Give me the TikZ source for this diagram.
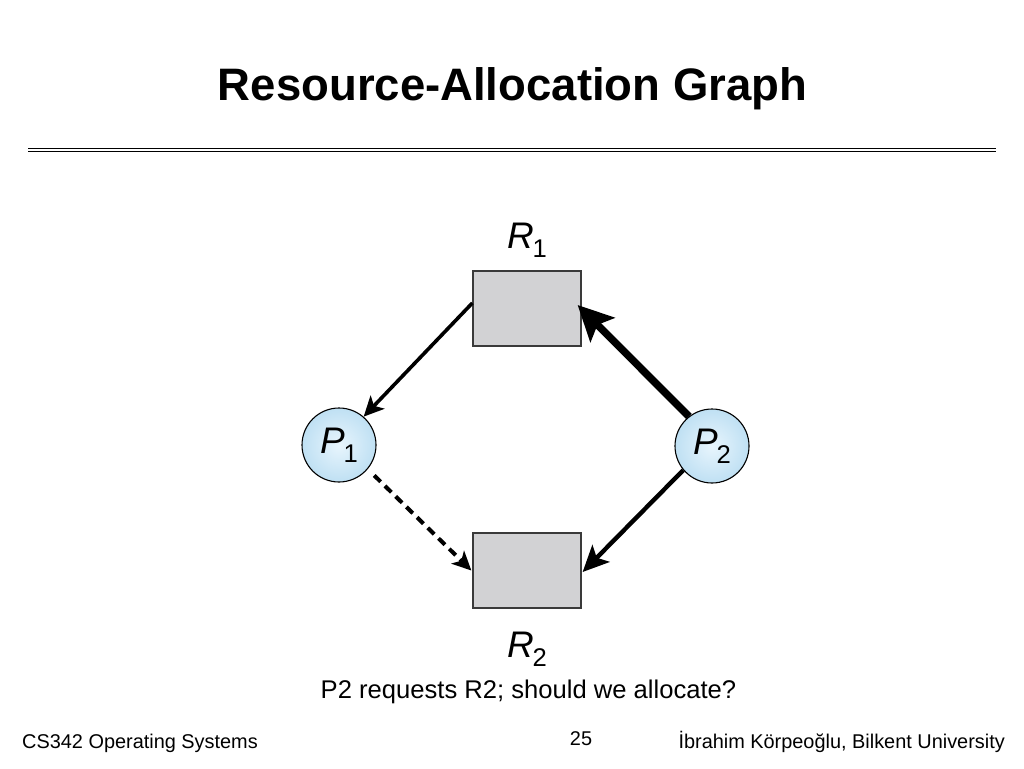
\documentclass[tikz,border=0pt]{standalone}
\usepackage{fontspec}
\setmainfont{Liberation Sans}
\usetikzlibrary{arrows.meta,calc}
\definecolor{rescol}{HTML}{D2D2D4}
\definecolor{resline}{HTML}{3A3A3A}
\definecolor{procin}{HTML}{E8F5FD}
\definecolor{procout}{HTML}{BFE0F3}
\tikzset{
  resbox/.style={draw=resline, line width=1.3pt, fill=rescol, minimum width=108pt, minimum height=75pt, inner sep=0pt},
  procnode/.style={circle, draw=black, line width=1.1pt, inner color=procin, outer color=procout, minimum size=74pt, inner sep=0pt, font=\fontsize{37}{40}\selectfont},
  graphlabel/.style={anchor=base, inner sep=0pt, font=\fontsize{37}{40}\selectfont},
  thinarrow/.style={line width=3.6pt, -{Stealth[length=20pt, width=19pt, inset=5pt]}},
  midarrow/.style={line width=4.4pt, -{Stealth[length=26pt, width=24pt, inset=6pt]}},
  thickarrow/.style={line width=7.5pt, -{Stealth[length=35pt, width=34pt, inset=7pt]}},
  dasharrow/.style={line width=4pt, dash pattern=on 9pt off 6pt, -{Stealth[length=19pt, width=18pt, inset=5pt]}},
  footer/.style={inner sep=0pt, font=\fontsize{19.9}{22}\selectfont}
}
\newcommand{\subidx}[1]{\raisebox{-9pt}{\fontsize{25.6}{28}\selectfont #1}}
\begin{document}
\begin{tikzpicture}[x=1pt,y=-1pt]
\useasboundingbox (0,0) rectangle (1024,768);
\fill[white] (0,0) rectangle (1024,768);
% title
\node[anchor=base, inner sep=0pt, font=\fontsize{45.5}{50}\selectfont\bfseries] (title) at (512.5,100) {Resource-Allocation Graph};
\draw[line width=1.3pt] (28,148.3) coordinate (l1a) -- (996,148.3) coordinate (l1b);
\draw[line width=1.3pt] (28,151.8) coordinate (l2a) -- (996,151.8) coordinate (l2b);
% graph
\node[resbox] (R1) at (527,308.5) {};
\node[resbox] (R2) at (527,570.5) {};
\node[graphlabel] (R1lab) at (527,248) {\textit{R}\hspace{-1pt}\subidx{1}};
\node[graphlabel] (R2lab) at (527,657) {\textit{R}\hspace{-1pt}\subidx{2}};
\node[procnode] (P1) at (339,445) {\textit{P}\hspace{-1pt}\subidx{1}};
\node[procnode] (P2) at (712,446) {\textit{P}\hspace{-1pt}\subidx{2}};
% edges
\draw[thinarrow] ($(R1.west)+(0,-5.5)$) -- (P1.49);
\draw[thickarrow] (P2.128) -- ($(R1.east)+(-4,-3.5)$);
\draw[midarrow] (P2.220) -- ($(R2.east)+(1,1.5)$);
\draw[dasharrow, shorten <=9pt] (P1.-40) -- ($(R2.west)+(-1,0)$);
% texts
\node[anchor=base, inner sep=0pt, font=\fontsize{25.6}{28}\selectfont] (question) at (528.5,698) {P2 requests R2; should we allocate?};
\node[footer, anchor=base west] (course) at (22,748) {CS342 Operating Systems};
\node[footer, anchor=base] (page) at (581,745) {25};
\node[footer, anchor=base east] (author) at (1005,748) {İbrahim Körpeoğlu, Bilkent University};
\end{tikzpicture}
\end{document}
